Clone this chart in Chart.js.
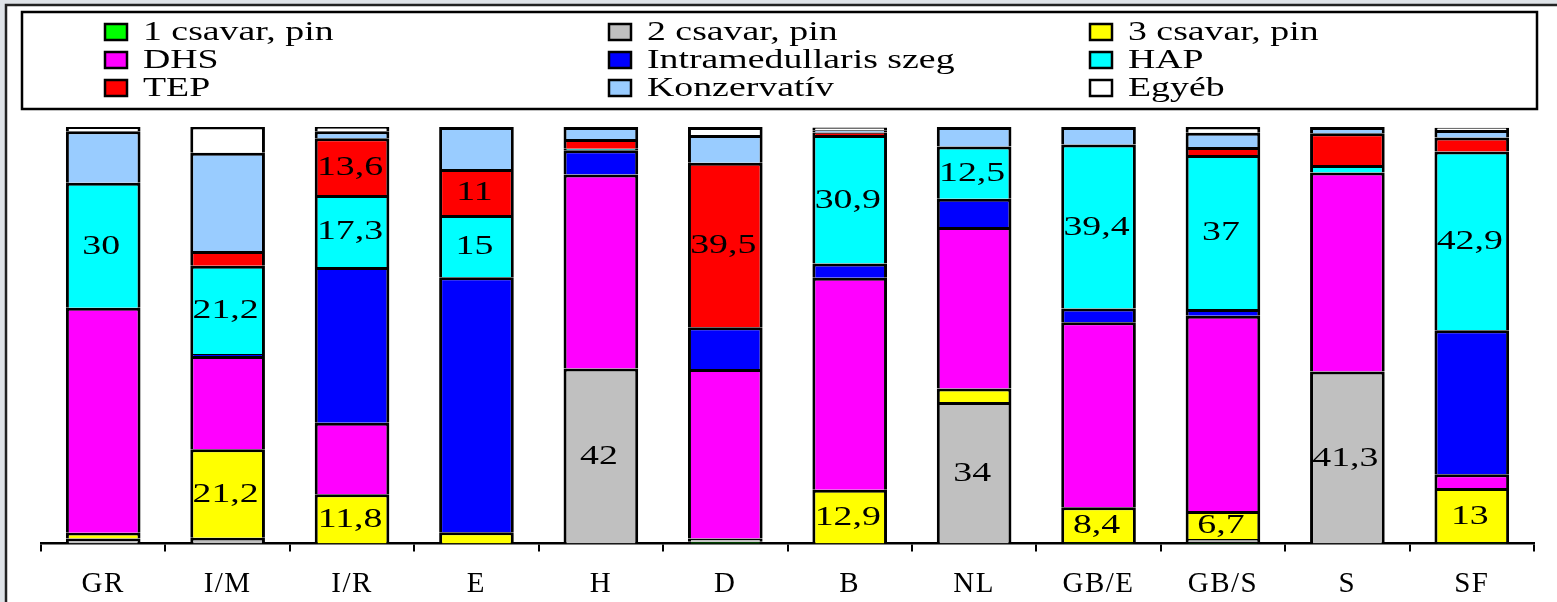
<!DOCTYPE html>
<html>
<head>
<meta charset="utf-8">
<script src="https://cdn.jsdelivr.net/npm/chart.js@4"></script>
<style>
  html, body { margin: 0; padding: 0; background: #fff; }
  #chart { display: block; }
</style>
</head>
<body>
<canvas id="chart" width="1557" height="602"></canvas>
<script>
// categories (countries) and the share of each fixation type, in %
const categories = ['GR', 'I/M', 'I/R', 'E', 'H', 'D', 'B', 'NL', 'GB/E', 'GB/S', 'S', 'SF'];

const csavar1 = [0, 0, 0, 0, 0, 0.4, 0, 0, 0.3, 0.3, 0, 0.3];
const csavar2 = [1.2, 1.4, 0, 0, 42, 0.8, 0, 34, 0, 0.8, 41.3, 0];
const csavar3 = [1.4, 21.2, 11.8, 2.7, 0, 0, 12.9, 3.2, 8.4, 6.7, 0, 13];
const dhs     = [54, 22.4, 17.2, 0, 46.6, 40.7, 50.9, 38.8, 44.4, 46.9, 47.8, 3.3];
const szeg    = [0, 0.5, 37.4, 61.2, 5.8, 10, 3.4, 6.8, 3.3, 1.6, 0, 34.6];
const hap     = [30, 21.2, 17.3, 15, 0.4, 0, 30.9, 12.5, 39.4, 37, 1.8, 42.9];
const tep     = [0, 3.5, 13.6, 11, 2.3, 39.5, 0.6, 0, 0, 1.9, 7.6, 3.4];
const konz    = [12.4, 23.6, 1.7, 10.1, 2.9, 6.7, 0.5, 4.7, 4.2, 3.4, 1.5, 1.8];
const egyeb   = [1, 6.3, 1.1, 0, 0, 1.9, 0.7, 0, 0, 1.5, 0, 0.5];

const seriesNames = ['1 csavar, pin', '2 csavar, pin', '3 csavar, pin', 'DHS',
  'Intramedullaris szeg', 'HAP', 'TEP', 'Konzervatív', 'Egyéb'];
const seriesValues = [csavar1, csavar2, csavar3, dhs, szeg, hap, tep, konz, egyeb];
const seriesColors = ['#00ff00', '#c0c0c0', '#ffff00', '#ff00ff', '#0000ff',
  '#00ffff', '#ff0000', '#99ccff', '#ffffff'];

// which segments carry a value label: [series, category]
const shownLabels = [
  [5, 0], [5, 1], [2, 1], [6, 2], [5, 2], [2, 2], [6, 3], [5, 3], [1, 4],
  [6, 5], [5, 6], [2, 6], [5, 7], [1, 7], [5, 8], [2, 8], [5, 9], [2, 9],
  [1, 10], [5, 11], [2, 11]
];

const serif = '"Liberation Serif", "Times New Roman", serif';

// grey page edge with the dark frame line on top and left
const framePlugin = {
  id: 'frame',
  beforeDraw(chart) {
    const ctx = chart.ctx;
    ctx.save();
    ctx.fillStyle = '#dfe3e8';
    ctx.fillRect(0, 0, chart.width, chart.height);
    ctx.fillStyle = '#ffffff';
    ctx.fillRect(6, 5, chart.width, chart.height);
    ctx.strokeStyle = '#222';
    ctx.lineWidth = 2.5;
    ctx.beginPath();
    ctx.moveTo(6, chart.height);
    ctx.lineTo(6, 5);
    ctx.lineTo(chart.width, 5);
    ctx.stroke();
    ctx.restore();
    // slightly wider axis labels, as in the scanned original
    ctx.letterSpacing = '1.5px';
  },
  beforeDatasetsDraw(chart) {
    chart.ctx.letterSpacing = '0px';
  }
};

// legend box, 3 columns x 3 rows
const boxLegend = {
  id: 'boxLegend',
  afterDraw(chart) {
    const ctx = chart.ctx;
    const colX = [105, 609, 1090];
    const rowY = [32, 60, 88];
    ctx.save();
    ctx.strokeStyle = '#000';
    ctx.lineWidth = 2.5;
    ctx.strokeRect(22, 12, 1515, 97);
    ctx.font = '28px ' + serif;
    ctx.textBaseline = 'middle';
    ctx.textAlign = 'left';
    chart.data.datasets.forEach((ds, i) => {
      const x = colX[i % 3];
      const y = rowY[Math.floor(i / 3)];
      ctx.fillStyle = ds.backgroundColor;
      ctx.fillRect(x, y - 8, 22, 16);
      ctx.lineWidth = 2.5;
      ctx.strokeStyle = '#000';
      ctx.strokeRect(x, y - 8, 22, 16);
      ctx.fillStyle = '#000';
      ctx.save();
      ctx.translate(x + 38, y + 1);
      ctx.scale(1.35, 1);
      ctx.fillText(ds.label, 0, 0);
      ctx.restore();
    });
    ctx.restore();
  }
};

// numbers written inside the bigger segments
const segLabels = {
  id: 'segLabels',
  afterDatasetsDraw(chart) {
    const ctx = chart.ctx;
    ctx.save();
    ctx.font = '28px ' + serif;
    ctx.fillStyle = '#000';
    ctx.textAlign = 'center';
    ctx.textBaseline = 'middle';
    shownLabels.forEach(([d, i]) => {
      const el = chart.getDatasetMeta(d).data[i];
      const v = chart.data.datasets[d].data[i];
      const txt = String(v).replace('.', ',');
      ctx.save();
      ctx.translate(el.x - 2, (el.y + el.base) / 2 + 1);
      ctx.scale(1.35, 1);
      ctx.fillText(txt, 0, 0);
      ctx.restore();
    });
    ctx.restore();
  }
};

new Chart(document.getElementById('chart'), {
  type: 'bar',
  data: {
    labels: categories,
    datasets: seriesNames.map((name, i) => ({
      label: name,
      data: seriesValues[i],
      backgroundColor: seriesColors[i],
      borderColor: '#000',
      borderWidth: 3,
      borderSkipped: 'start',
      barPercentage: 0.6,
      categoryPercentage: 1
    }))
  },
  options: {
    responsive: false,
    animation: false,
    layout: { padding: { left: 41, right: 23, top: 127, bottom: 0 } },
    plugins: {
      legend: { display: false },
      tooltip: { enabled: false }
    },
    scales: {
      x: {
        stacked: true,
        afterFit(scale) { scale.height = 58.5; },
        grid: {
          display: true,
          drawOnChartArea: false,
          drawTicks: true,
          tickLength: 8,
          color: '#000',
          lineWidth: 2
        },
        border: { display: true, color: '#000', width: 2.5 },
        ticks: {
          color: '#000',
          padding: 15,
          maxRotation: 0,
          font: { family: serif, size: 29 }
        }
      },
      y: {
        stacked: true,
        display: false,
        min: 0,
        max: 100
      }
    }
  },
  plugins: [framePlugin, boxLegend, segLabels]
});
</script>
</body>
</html>
